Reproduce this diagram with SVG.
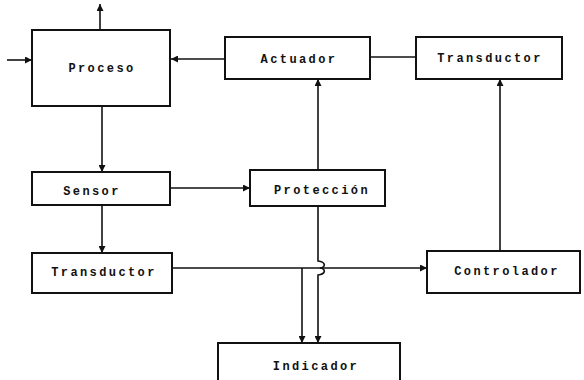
<svg xmlns="http://www.w3.org/2000/svg" width="584" height="380" viewBox="0 0 584 380">
<defs>
<style>
.box{fill:#fff;stroke:#111;stroke-width:2}
.lbl{font-family:"Liberation Mono","DejaVu Sans Mono",monospace;font-size:12px;font-weight:bold;letter-spacing:2.4px;fill:#111;text-anchor:middle}
.ln{fill:none;stroke:#111;stroke-width:1.6}
</style>
<marker id="ah" viewBox="0 0 10 10" refX="10" refY="5" markerWidth="8" markerHeight="7" markerUnits="userSpaceOnUse" orient="auto">
<path d="M0,0 L10,5 L0,10 Z" fill="#111"/>
</marker>
</defs>
<rect width="584" height="380" fill="#fff"/>
<g id="connectors">
<line class="ln" x1="100" y1="30" x2="100" y2="4" marker-end="url(#ah)"/>
<line class="ln" x1="7" y1="60" x2="32" y2="60" marker-end="url(#ah)"/>
<line class="ln" x1="225" y1="59" x2="171" y2="59" marker-end="url(#ah)"/>
<line class="ln" x1="416" y1="57" x2="370" y2="57"/>
<line class="ln" x1="102" y1="106" x2="102" y2="172" marker-end="url(#ah)"/>
<line class="ln" x1="170" y1="188" x2="250" y2="188" marker-end="url(#ah)"/>
<line class="ln" x1="318" y1="170" x2="318" y2="79" marker-end="url(#ah)"/>
<line class="ln" x1="102" y1="205" x2="102" y2="253" marker-end="url(#ah)"/>
<line class="ln" x1="172" y1="268" x2="427" y2="268" marker-end="url(#ah)"/>
<line class="ln" x1="500" y1="251" x2="500" y2="79" marker-end="url(#ah)"/>
<line class="ln" x1="302" y1="268" x2="302" y2="343" marker-end="url(#ah)"/>
<path class="ln" d="M318,206 L318,261 C326,262 326,267 320,268 C326,269 326,274 318,275 L318,343" marker-end="url(#ah)"/>
</g>
<g id="proceso"><rect class="box" x="32" y="30" width="138" height="76"/><text class="lbl" x="102" y="72">Proceso</text></g>
<g id="actuador"><rect class="box" x="225" y="37" width="145" height="42"/><text class="lbl" x="299" y="63">Actuador</text></g>
<g id="transductor-top"><rect class="box" x="416" y="37" width="146" height="42"/><text class="lbl" x="490" y="62">Transductor</text></g>
<g id="sensor"><rect class="box" x="32" y="172" width="138" height="33"/><text class="lbl" x="92" y="195">Sensor</text></g>
<g id="proteccion"><rect class="box" x="250" y="170" width="135" height="36"/><text class="lbl" x="322" y="194">Protección</text></g>
<g id="transductor-bottom"><rect class="box" x="32" y="253" width="140" height="40"/><text class="lbl" x="104" y="276">Transductor</text></g>
<g id="controlador"><rect class="box" x="427" y="251" width="153" height="42"/><text class="lbl" x="507" y="275">Controlador</text></g>
<g id="indicador"><rect class="box" x="218" y="343" width="182" height="50"/><text class="lbl" x="316" y="370">Indicador</text></g>
</svg>
